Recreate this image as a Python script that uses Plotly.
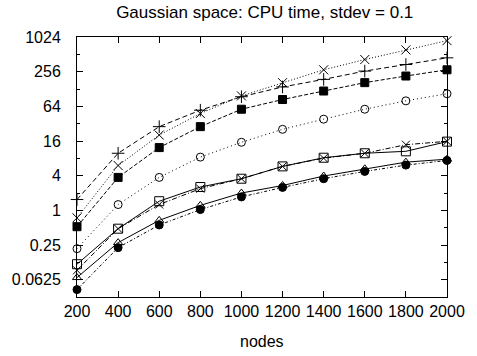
import plotly.graph_objects as go

nodes = [200, 400, 600, 800, 1000, 1200, 1400, 1600, 1800, 2000]

plus_series = [1.54, 9.8, 28.4, 54.8, 94, 139, 188, 262, 341, 445]
x_upper_series = [0.74, 6.0, 20.3, 48, 97, 165, 276, 416, 611, 884]
sq_filled_series = [0.52, 3.73, 12.3, 28.4, 57, 84, 118, 165, 215, 276]
circle_open_series = [0.216, 1.26, 3.73, 8.4, 15.2, 25.5, 38.3, 57, 79.7, 106]
sq_open_series = [0.116, 0.48, 1.44, 2.54, 3.54, 5.8, 8.2, 9.8, 10.6, 15.6]
x_lower_series = [0.091, 0.48, 1.26, 2.38, 3.54, 5.8, 8.05, 9.8, 13.8, 15.8]
tri_open_series = [0.068, 0.275, 0.67, 1.22, 2.0, 2.7, 3.94, 5.27, 6.87, 7.73]
circle_filled_series = [0.042, 0.225, 0.556, 1.03, 1.71, 2.5, 3.54, 4.74, 6.1, 7.35]

y_tickvals = [0.0625, 0.25, 1, 4, 16, 64, 256, 1024]
y_ticktext = ["0.0625", "0.25", "1", "4", "16", "64", "256", "1024"]
y_minorvals = [2 ** k for k in (-5, -3, -1, 1, 3, 5, 7, 9)]
x_tickvals = nodes
x_ticktext = [str(n) for n in nodes]

title_text = "Gaussian space: CPU time, stdev = 0.1"
x_title = "nodes"

series = [
    (plus_series, "cross-thin-open", "5px,3px", 9),
    (x_upper_series, "x-thin-open", "1px,2px", 9),
    (sq_filled_series, "square", "4px,2px", 8),
    (circle_open_series, "circle-open", "1px,3px", 8),
    (sq_open_series, "square-open", "solid", 9),
    (x_lower_series, "x-thin-open", "5px,2px,1px,2px", 8),
    (tri_open_series, "triangle-up-open", "solid", 8),
    (circle_filled_series, "circle", "3px,2px,1px,2px", 8),
]

fig = go.Figure()
for vals, sym, dash, size in series:
    fig.add_trace(go.Scatter(
        x=nodes, y=vals, mode="lines+markers",
        line=dict(color="black", width=1, dash=dash),
        marker=dict(symbol=sym, size=size, color="black",
                    line=dict(color="black", width=1)),
        showlegend=False, cliponaxis=False,
    ))

font_family = "Liberation Sans, Arial, sans-serif"

fig.update_layout(
    width=477, height=356,
    margin=dict(l=77, r=24, t=37, b=59),
    paper_bgcolor="white", plot_bgcolor="white",
    font=dict(family=font_family, size=16, color="black"),
    title=dict(text=title_text, x=0.555, xanchor="center", y=0.982, yanchor="top",
               font=dict(size=17)),
    showlegend=False,
    annotations=[dict(text=x_title, xref="paper", yref="paper", x=0.5, y=-0.173,
                      xanchor="center", yanchor="middle", showarrow=False,
                      font=dict(size=16))],
)

fig.update_xaxes(
    range=[200, 2000], tickmode="array", tickvals=x_tickvals, ticktext=x_ticktext,
    ticks="inside", ticklen=6, tickcolor="black", tickwidth=1,
    showline=True, linecolor="black", linewidth=1, mirror="allticks",
    showgrid=False, zeroline=False,
    tickfont=dict(size=16), ticklabelstandoff=0,
)

fig.update_yaxes(
    type="log", range=[-5 * 0.30103, 10 * 0.30103],
    tickmode="array", tickvals=y_tickvals, ticktext=y_ticktext,
    ticks="inside", ticklen=6, tickcolor="black", tickwidth=1,
    minor=dict(tickmode="array", tickvals=y_minorvals, ticks="inside", ticklen=3,
               tickcolor="black", showgrid=False),
    showline=True, linecolor="black", linewidth=1, mirror="allticks",
    showgrid=False, zeroline=False,
    tickfont=dict(size=16), ticklabelstandoff=12,
)

fig.write_html("out.html")
